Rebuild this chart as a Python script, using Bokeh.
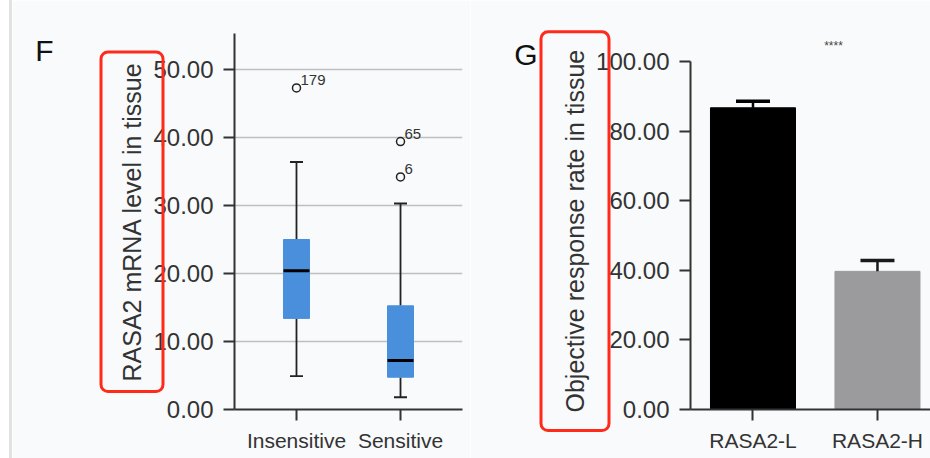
from bokeh.plotting import figure
from bokeh.layouts import row
from bokeh.models import (FixedTicker, PrintfTickFormatter, Range1d, Label, Title,
                          LinearAxis, ColumnDataSource, Div)
from bokeh.embed import file_html
from bokeh.resources import INLINE

# ---------------- data: panel F (box plot) ----------------
categories_f = ["Insensitive", "Sensitive"]
q1 = [13.4, 4.75]
median = [20.4, 7.2]
q3 = [25.0, 15.25]
lower_whisker = [4.9, 1.8]
upper_whisker = [36.4, 30.3]
outlier_group = ["Insensitive", "Sensitive", "Sensitive"]
outlier_value = [47.3, 39.4, 34.2]
outlier_id = ["179", "65", "6"]
yticks_f = [0, 10, 20, 30, 40, 50]

# ---------------- data: panel G (bar chart) ----------------
categories_g = ["RASA2-L", "RASA2-H"]
response_rate = [86.7, 39.7]
response_err = [1.9, 3.1]
yticks_g = [0, 20, 40, 60, 80, 100]
significance = "****"

BG = "#f8fafb"
FONT = "Liberation Sans"
AXC = "#333333"
RED = "#ff2a1a"


def style_axes(p, xpos, xlabels, yticks):
    p.xaxis.ticker = FixedTicker(ticks=xpos)
    p.xaxis.major_label_overrides = {x: l for x, l in zip(xpos, xlabels)}
    p.yaxis.ticker = FixedTicker(ticks=yticks)
    p.yaxis.formatter = PrintfTickFormatter(format="%.2f")
    for ax in (p.xaxis, p.yaxis):
        ax.axis_line_color = AXC
        ax.axis_line_width = 2
        ax.major_tick_line_color = AXC
        ax.major_tick_line_width = 2
        ax.major_tick_in = 0
        ax.major_tick_out = 11
        ax.minor_tick_line_color = None
        ax.major_label_text_font = FONT
        ax.major_label_text_color = AXC
    p.xaxis.major_label_text_font_size = "21px"
    p.xaxis.major_label_standoff = 8
    p.yaxis.major_label_text_font_size = "24px"
    p.yaxis.major_label_standoff = 10
    p.xgrid.grid_line_color = None
    p.outline_line_color = None
    p.background_fill_color = BG
    p.border_fill_color = BG


def ylabel_title(text, standoff, offset, padding):
    kw = dict(text=text, align="left", offset=offset, text_font=FONT,
              text_font_size="25px", text_font_style="normal", text_color=AXC,
              standoff=standoff, border_line_color=RED, border_line_width=3)
    try:
        return Title(**kw, padding=padding, border_radius=7)
    except Exception:
        return Title(**kw)


def letter_axis(value_at, letter, standoff):
    ax = LinearAxis(ticker=FixedTicker(ticks=[value_at]),
                    major_label_overrides={value_at: letter})
    ax.axis_line_color = None
    ax.major_tick_line_color = None
    ax.minor_tick_line_color = None
    ax.major_tick_out = 0
    ax.major_tick_in = 0
    ax.major_label_standoff = standoff
    ax.major_label_text_font = FONT
    ax.major_label_text_font_size = "30px"
    ax.major_label_text_color = "#111111"
    return ax


# ---------------- panel F ----------------
pf = figure(width=458, height=458, output_backend="svg", toolbar_location=None,
            min_border_left=222, min_border_right=8, min_border_top=33,
            min_border_bottom=49, x_range=Range1d(0.404, 2.596),
            y_range=Range1d(0, 55.3))
xf = [i + 1 for i in range(len(categories_f))]
style_axes(pf, xf, categories_f, yticks_f)
pf.ygrid.ticker = FixedTicker(ticks=yticks_f[1:])
pf.ygrid.grid_line_color = "#bfbfbf"
pf.ygrid.grid_line_width = 1.5
pf.add_layout(ylabel_title("RASA2 mRNA level in tissue", -25, 18, (10, 17)), "left")
pf.add_layout(letter_axis(52.8, "F", 72), "left")

bw = 0.25
cw = 0.125
pf.segment(x0=xf, y0=q3, x1=xf, y1=upper_whisker, line_color="#222222", line_width=1.8)
pf.segment(x0=xf, y0=q1, x1=xf, y1=lower_whisker, line_color="#222222", line_width=1.8)
pf.segment(x0=[x - cw / 2 for x in xf], y0=upper_whisker,
           x1=[x + cw / 2 for x in xf], y1=upper_whisker, line_color="#222222", line_width=1.8)
pf.segment(x0=[x - cw / 2 for x in xf], y0=lower_whisker,
           x1=[x + cw / 2 for x in xf], y1=lower_whisker, line_color="#222222", line_width=1.8)
pf.vbar(x=xf, width=bw, top=q3, bottom=q1, fill_color="#4a8fdb", line_color="#4a8fdb")
pf.segment(x0=[x - bw / 2 for x in xf], y0=median,
           x1=[x + bw / 2 for x in xf], y1=median, line_color="#000000", line_width=3)

ox = [categories_f.index(g) + 1 for g in outlier_group]
osrc = ColumnDataSource(dict(x=ox, y=outlier_value, t=outlier_id))
pf.scatter("x", "y", source=osrc, marker="circle", size=8, fill_color=BG,
           line_color="#222222", line_width=1.5)
pf.text("x", "y", text="t", source=osrc, x_offset=4, y_offset=-8,
        text_font_size="15px", text_color=AXC, text_baseline="alphabetic",
        text_font={"value": FONT})

# ---------------- panel G ----------------
gy_top = 108.05
pg = figure(width=460, height=458, output_backend="svg", toolbar_location=None,
            min_border_left=220, min_border_right=0, min_border_top=33,
            min_border_bottom=49, x_range=Range1d(0.498, 2.426),
            y_range=Range1d(0, gy_top))
xg = [i + 1 for i in range(len(categories_g))]
style_axes(pg, xg, categories_g, yticks_g)
pg.yaxis.bounds = (yticks_g[0], yticks_g[-1])
pg.ygrid.grid_line_color = None
pg.add_layout(ylabel_title("Objective response rate in tissue", -31, -21, (18, 20)), "left")
pg.add_layout(letter_axis(102, "G", 21), "left")

bar_colors = ["#000000", "#9b9b9d"]
err_colors = ["#000000", "#1a1a1a"]
gw = 0.683
ecw = 0.273
top_err = [r + e for r, e in zip(response_rate, response_err)]
pg.vbar(x=xg, width=gw, top=response_rate, bottom=0, fill_color=bar_colors,
        line_color=bar_colors)
pg.segment(x0=xg, y0=response_rate, x1=xg, y1=top_err, line_color=err_colors, line_width=2.5)
pg.segment(x0=[x - ecw / 2 for x in xg], y0=top_err, x1=[x + ecw / 2 for x in xg],
           y1=top_err, line_color=err_colors, line_width=3.5)
pg.add_layout(Label(x=1.647, y=104.6, text=significance, text_font_size="12px",
                    text_font=FONT, text_color="#444444", text_align="center",
                    text_baseline="middle"))

edge_white = Div(width=9, height=458, margin=0, styles={"background-color": "#ffffff"})
edge_line = Div(width=3, height=458, margin=0, styles={"background-color": "#e2e2e2"})

layout = row(edge_white, edge_line, pf, pg)
open("out.html", "w").write(file_html(layout, INLINE))
